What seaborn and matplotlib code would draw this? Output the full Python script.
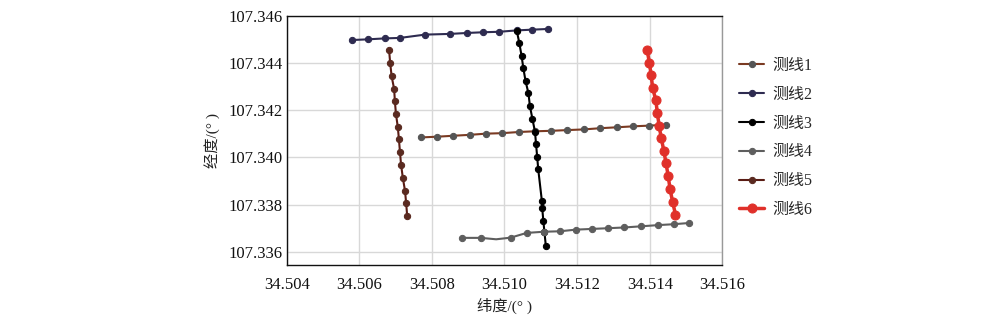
import matplotlib
matplotlib.use("Agg")
import matplotlib.pyplot as plt
import seaborn as sns
import pandas as pd

# ---- data (latitude x, longitude y) ----
line1_x = [34.50770, 34.50814, 34.50858, 34.50905, 34.50949, 34.50993, 34.51040, 34.51084,
           34.51128, 34.51172, 34.51219, 34.51263, 34.51310, 34.51354, 34.51398, 34.51445]
line1_y = [107.34085, 107.34088, 107.34092, 107.34096, 107.34101, 107.34103, 107.34108, 107.34111,
           107.34113, 107.34116, 107.34119, 107.34124, 107.34128, 107.34132, 107.34135, 107.34139]

line2_x = [34.50580, 34.50624, 34.50671, 34.50712, 34.50781, 34.50850, 34.50897, 34.50941,
           34.50985, 34.51035, 34.51076, 34.51120]
line2_y = [107.34498, 107.34501, 107.34505, 107.34507, 107.34521, 107.34524, 107.34528, 107.34531,
           107.34533, 107.34539, 107.34542, 107.34545]

line3_x = [34.51034, 34.51041, 34.51047, 34.51052, 34.51058, 34.51066, 34.51070, 34.51077, 34.51084,
           34.51087, 34.51090, 34.51093, 34.51103, 34.51104, 34.51107, 34.51110, 34.51114]
line3_y = [107.34536, 107.34484, 107.34431, 107.34378, 107.34324, 107.34272, 107.34218, 107.34163,
           107.34109, 107.34055, 107.34003, 107.33949, 107.33815, 107.33784, 107.33731, 107.33684,
           107.33623]

line4_x = [34.50882, 34.50935, 34.50977, 34.51017, 34.51061, 34.51108, 34.51153, 34.51197,
           34.51242, 34.51286, 34.51329, 34.51376, 34.51422, 34.51467, 34.51508]
line4_y = [107.33659, 107.33659, 107.33653, 107.33660, 107.33680, 107.33685, 107.33687, 107.33694,
           107.33697, 107.33700, 107.33703, 107.33708, 107.33713, 107.33717, 107.33722]
line4_marked = [0, 1, 3, 4, 5, 6, 7, 8, 9, 10, 11, 12, 13, 14]

line5_x = [34.50682, 34.50685, 34.50689, 34.50696, 34.50698, 34.50701, 34.50706, 34.50709,
           34.50712, 34.50715, 34.50720, 34.50726, 34.50729, 34.50732]
line5_y = [107.34456, 107.34402, 107.34345, 107.34290, 107.34239, 107.34184, 107.34130, 107.34080,
           107.34024, 107.33970, 107.33913, 107.33858, 107.33807, 107.33751]

line6_x = [34.51393, 34.51399, 34.51404, 34.51408, 34.51417, 34.51421, 34.51426, 34.51432,
           34.51439, 34.51445, 34.51451, 34.51456, 34.51463, 34.51471]
line6_y = [107.34456, 107.34402, 107.34350, 107.34296, 107.34242, 107.34189, 107.34134, 107.34081,
           107.34028, 107.33975, 107.33921, 107.33867, 107.33813, 107.33758]

labels = ["测线1", "测线2", "测线3", "测线4", "测线5", "测线6"]
x_ticks = [34.504, 34.506, 34.508, 34.510, 34.512, 34.514, 34.516]
y_ticks = [107.336, 107.338, 107.340, 107.342, 107.344, 107.346]
x_label = "纬度/(° )"
y_label = "经度/(° )"

# ---- style ----
sns.set_theme(style="whitegrid")
fam = ["Liberation Serif", "Noto Sans CJK SC"]
plt.rcParams["font.family"] = fam
plt.rcParams["axes.unicode_minus"] = False

fig = plt.figure(figsize=(10, 3.23), dpi=100)
ax = fig.add_axes([0.2867, 0.1796, 0.4356, 0.7709])

series = {
    1: (line1_x, line1_y, dict(color="#7a3a22", marker="o", markersize=4.5, markerfacecolor="#555555",
                              markeredgecolor="#555555", linewidth=1.5)),
    2: (line2_x, line2_y, dict(color="#2e2b50", marker="o", markersize=4.5, markerfacecolor="#2e2b50",
                              markeredgecolor="#2e2b50", linewidth=1.5)),
    3: (line3_x, line3_y, dict(color="#000000", marker="o", markersize=4.5, markerfacecolor="#000000",
                              markeredgecolor="#000000", linewidth=1.5)),
    4: (line4_x, line4_y, dict(color="#5e5e5e", marker="o", markersize=4.5, markerfacecolor="#5e5e5e",
                              markeredgecolor="#5e5e5e", linewidth=1.5, markevery=line4_marked)),
    5: (line5_x, line5_y, dict(color="#5a1c14", marker="o", markersize=4.5, markerfacecolor="#5a2a20",
                              markeredgecolor="#5a2a20", linewidth=1.5)),
    6: (line6_x, line6_y, dict(color="#e0302a", marker="o", markersize=6.5, markerfacecolor="#e0302a",
                              markeredgecolor="#e0302a", linewidth=2.5)),
}

draw_order = [2, 5, 1, 3, 4, 6]
handles = {}
for k in draw_order:
    xs, ys, kw = series[k]
    df = pd.DataFrame({"x": xs, "y": ys})
    sns.lineplot(data=df, x="x", y="y", sort=False, estimator=None, ax=ax,
                 label=labels[k - 1], legend=False, **kw)
    handles[k] = ax.lines[-1]

ax.set_xlim(34.504, 34.516)
ax.set_ylim(107.33544, 107.346)
ax.set_xticks(x_ticks)
ax.set_yticks(y_ticks)
ax.set_xticklabels([f"{v:.3f}" for v in x_ticks])
ax.set_yticklabels([f"{v:.3f}" for v in y_ticks])
ax.tick_params(axis="y", length=0, labelsize=12, colors="#111111", pad=3)
ax.tick_params(axis="x", length=0, labelsize=12, colors="#111111", pad=9)
ax.grid(True, color="#d8d8d8", linewidth=1.0)
for side in ["left", "bottom", "top"]:
    ax.spines[side].set_color("#111111")
    ax.spines[side].set_linewidth(1.0)
ax.spines["right"].set_color("#999999")
ax.spines["right"].set_linewidth(1.0)

ax.set_xlabel(x_label, fontsize=11, color="#222222", labelpad=3)
ax.set_ylabel(y_label, fontsize=11, color="#222222", labelpad=6)

leg = ax.legend([handles[k] for k in range(1, 7)], labels, loc="center left",
                bbox_to_anchor=(1.005, 0.51), frameon=False, fontsize=11.5,
                handlelength=1.6, labelspacing=0.8, handletextpad=0.5)

fig.savefig("out.png", dpi=100)
